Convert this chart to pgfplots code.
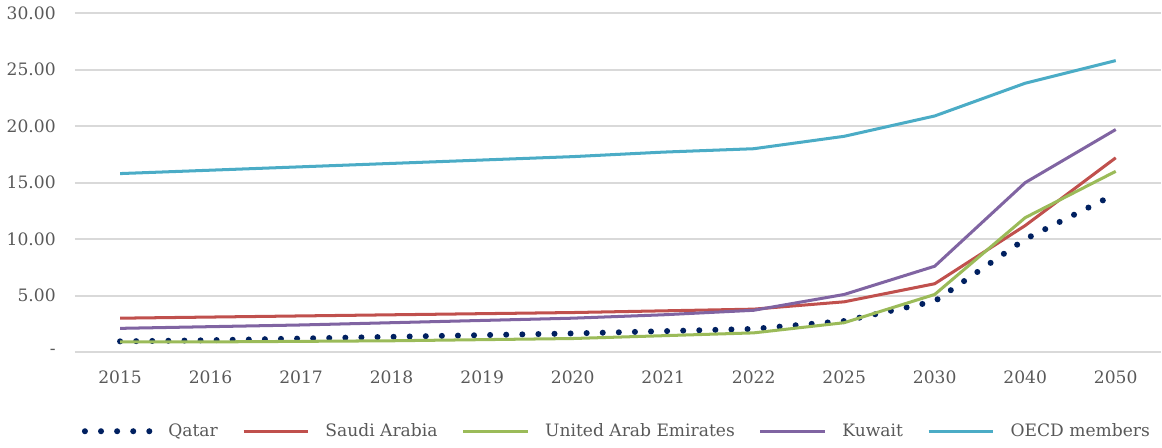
\documentclass[border=0pt]{standalone}
\usepackage{pgfplots}
\pgfplotsset{compat=1.18}
\usepackage{fontspec}
\setmainfont{DejaVu Serif}
\definecolor{qatar}{HTML}{002060}
\definecolor{saudi}{HTML}{C0504D}
\definecolor{uae}{HTML}{9BBB59}
\definecolor{kuwait}{HTML}{8064A2}
\definecolor{oecd}{HTML}{4BACC6}
\definecolor{txt}{HTML}{595959}
\definecolor{grd}{HTML}{D9D9D9}

\begin{document}
\begin{tikzpicture}
\begin{axis}[
    width=540pt, height=168.5pt,
    scale only axis,
    xmin=-0.5, xmax=11.5,
    ymin=0, ymax=30,
    xtick={0,...,11},
    xticklabels={2015,2016,2017,2018,2019,2020,2021,2022,2025,2030,2040,2050},
    ytick={0,5,...,30},
    yticklabels={-,5.00,10.00,15.00,20.00,25.00,30.00},
    axis line style={draw=none},
    major tick length=0pt,
    ymajorgrids,
    grid style={grd, line width=1pt},
    tick label style={font=\fontsize{8.5}{10}\selectfont, text=txt},
    yticklabel style={xshift=-6pt},
    xticklabel style={yshift=-6pt},
    legend columns=5,
    legend style={at={(0.5,-0.185)}, anchor=north, draw=none,
        font=\fontsize{8.5}{10}\selectfont, text=txt,
        /tikz/every odd column/.append style={column sep=2pt},
        /tikz/every even column/.append style={column sep=10pt}},
    legend image code/.code={\draw[#1] (0pt,0pt) -- (32.01pt,0pt); \path (36pt,0pt);},
]
\addplot[qatar, line width=3pt, line cap=round, dash pattern=on 0pt off 8pt] coordinates {
    (0,0.95) (1,1.05) (2,1.2) (3,1.35) (4,1.5) (5,1.65) (6,1.85) (7,2.05)
    (8,2.75) (9,4.5) (10,10.0) (11,14.0)
};
\addlegendentry{Qatar}
\addplot[saudi, line width=1.5pt] coordinates {
    (0,3.0) (1,3.1) (2,3.2) (3,3.3) (4,3.4) (5,3.5) (6,3.65) (7,3.8)
    (8,4.45) (9,6.05) (10,11.2) (11,17.2)
};
\addlegendentry{Saudi Arabia}
\addplot[uae, line width=1.5pt] coordinates {
    (0,0.9) (1,0.9) (2,0.95) (3,1.0) (4,1.1) (5,1.2) (6,1.45) (7,1.7)
    (8,2.6) (9,5.1) (10,11.9) (11,16.0)
};
\addlegendentry{United Arab Emirates}
\addplot[kuwait, line width=1.5pt] coordinates {
    (0,2.1) (1,2.25) (2,2.4) (3,2.6) (4,2.8) (5,3.0) (6,3.3) (7,3.7)
    (8,5.1) (9,7.6) (10,15.0) (11,19.7)
};
\addlegendentry{Kuwait}
\addplot[oecd, line width=1.5pt] coordinates {
    (0,15.8) (1,16.1) (2,16.4) (3,16.7) (4,17.0) (5,17.3) (6,17.7) (7,18.0)
    (8,19.1) (9,20.9) (10,23.8) (11,25.8)
};
\addlegendentry{OECD members}
\end{axis}
\end{tikzpicture}
\end{document}
